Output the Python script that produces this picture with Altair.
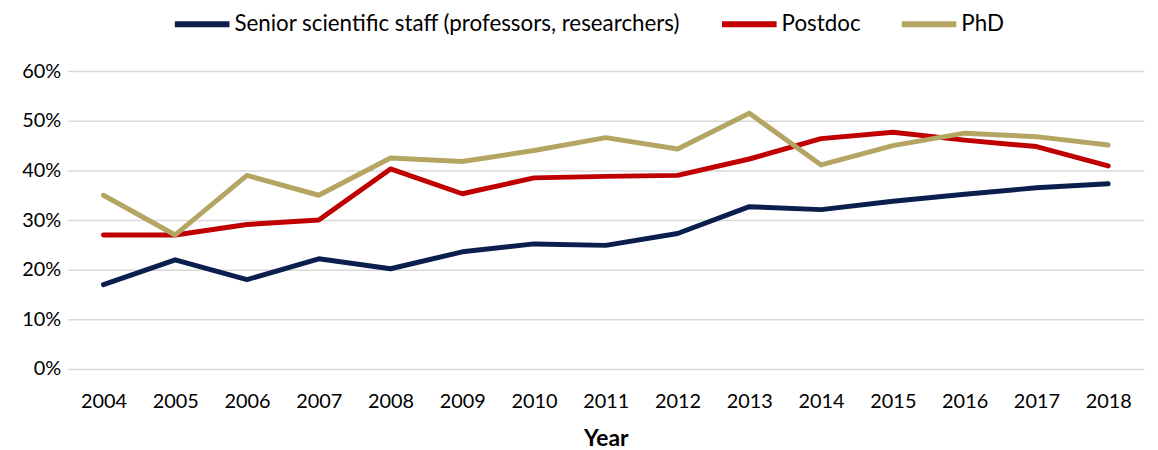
import altair as alt
import pandas as pd

years = [str(y) for y in range(2004, 2019)]
senior = [17.0, 22.0, 18.0, 22.2, 20.2, 23.6, 25.2, 24.9, 27.3, 32.7, 32.1, 33.8, 35.2, 36.5, 37.3]
postdoc = [27.0, 27.0, 29.1, 30.0, 40.3, 35.3, 38.5, 38.8, 39.0, 42.3, 46.4, 47.7, 46.1, 44.8, 40.9]
phd = [35.0, 27.0, 39.0, 35.0, 42.5, 41.8, 44.0, 46.6, 44.3, 51.5, 41.1, 45.0, 47.5, 46.8, 45.1]

series_names = ["Senior scientific staff (professors, researchers)", "Postdoc", "PhD"]
series_colors = ["#0B1F4E", "#C00000", "#B4A562"]

rows = []
for name, vals in zip(series_names, [senior, postdoc, phd]):
    for y, v in zip(years, vals):
        rows.append({"Year": y, "Share": v / 100, "Series": name})
df = pd.DataFrame(rows)

FONT = "Lato"

chart = alt.Chart(df).mark_line(strokeWidth=5, strokeCap="round", strokeJoin="round").encode(
    x=alt.X("Year:O", scale=alt.Scale(type="point", padding=0.5),
            axis=alt.Axis(title="Year", labelAngle=0, ticks=False, domain=False, grid=False,
                          labelPadding=23, labelFontSize=20, labelColor="#000000",
                          titleFontSize=23, titleFontWeight="bold", titlePadding=16,
                          labelFont=FONT, titleFont=FONT, titleColor="#000000")),
    y=alt.Y("Share:Q", scale=alt.Scale(domain=[0, 0.6], nice=False),
            axis=alt.Axis(title=None, format=".0%", values=[0, 0.1, 0.2, 0.3, 0.4, 0.5, 0.6],
                          ticks=False, domain=False, gridColor="#D9D9D9", gridWidth=1.5,
                          labelPadding=7, labelFontSize=20, labelColor="#000000", labelFont=FONT)),
    color=alt.Color("Series:N", sort=series_names,
                    scale=alt.Scale(domain=series_names, range=series_colors),
                    legend=alt.Legend(title=None, orient="none", direction="horizontal",
                                      legendX=105, legendY=-78,
                                      symbolType="stroke", symbolSize=3025, symbolStrokeWidth=6,
                                      labelFontSize=22.5, labelFont=FONT, labelColor="#000000",
                                      labelOffset=2, columnPadding=29, labelLimit=700)),
    order=alt.value(0),
).properties(
    width=1084, height=300,
    autosize=alt.AutoSizeParams(type="none"),
    padding={"left": 60, "top": 62, "right": 6, "bottom": 80},
).configure_view(stroke=None)

chart.save("out.html", embed_options={"renderer": "svg", "actions": False})
